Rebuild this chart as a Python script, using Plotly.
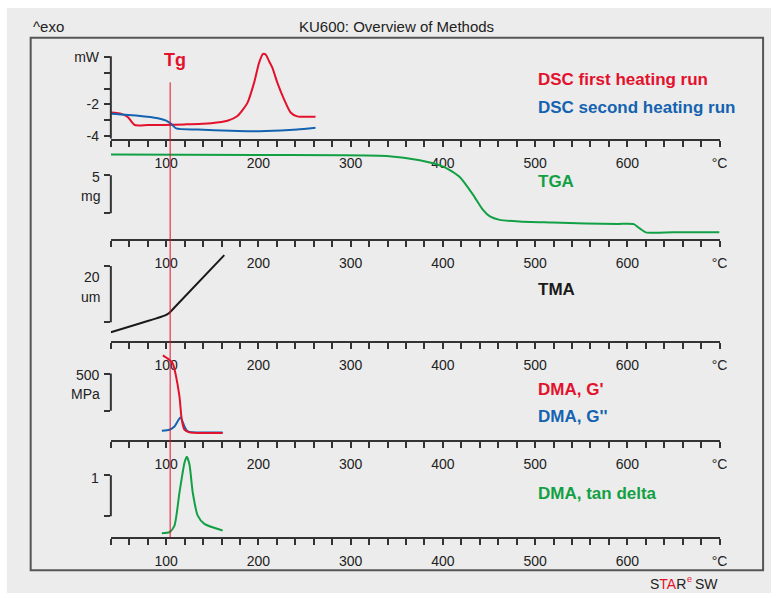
import plotly.graph_objects as go

W, H = 779, 598
FONT = "Liberation Sans, Arial, sans-serif"
INK = "#222222"
AXIS = "#333333"
RED = "#e3112c"
BLUE = "#1463b0"
GREEN = "#12a044"

# ---- temperature axis (shared by all panels) ----
T_RANGE = [40, 700]
T_TICKS = [100, 200, 300, 400, 500, 600, 700]
T_LABELS = ["100", "200", "300", "400", "500", "600", "°C"]

# ---- DSC (mW) ----
dsc1_T = [40, 51.4, 58.6, 65.8, 80.2, 98, 119.8, 148.6, 166.5, 177.3, 188.1,
          195.3, 200.7, 205, 207.9, 211.5, 215.1, 220.5, 227.7, 234.9, 242.1, 261.9]
dsc1_mW = [-2.52, -2.6, -2.82, -3.31, -3.31, -3.31, -3.27, -3.19, -3.04, -2.74, -1.9,
           -0.62, 0.65, 1.22, 1.18, 0.76, 0.34, -0.61, -1.66, -2.51, -2.76, -2.78]
dsc2_T = [40, 69.4, 91, 100, 105.4, 110.8, 134.2, 170.1, 191.7, 224.1, 242.1, 261.9]
dsc2_mW = [-2.6, -2.72, -2.88, -3.03, -3.24, -3.52, -3.6, -3.68, -3.71, -3.66, -3.6, -3.49]
DSC_TICKS = [-4, -2, 1]
DSC_LABELS = ["-4", "-2", "mW"]

# ---- TGA (mg) ----
tga_T = [40, 200, 339, 375, 401, 418, 433, 443.5, 451, 461.5, 483, 519, 555, 590, 607, 613, 620, 650, 700]
tga_mg = [17.74, 17.66, 17.53, 16.96, 16.1, 14.79, 12.39, 10.44, 9.58, 9.13, 8.92, 8.79,
          8.66, 8.6, 8.57, 8.05, 7.49, 7.49, 7.49]

# ---- TMA (um) ----
tma_T = [40, 69.4, 98.2, 103.6, 110, 163]
tma_um = [-3.56, -0.6, 2.36, 3.42, 5.6, 23.88]

# ---- DMA moduli (MPa) ----
g1_T = [96.4, 101.8, 107.2, 110.8, 114.4, 116.9, 119.8, 125.2, 161.2]
g1_MPa = [1145, 1100, 1033, 856, 590, 280, 147, 111, 102]
g2_T = [95.3, 103.6, 109, 115.5, 119.8, 122.5, 125.2, 161.2]
g2_MPa = [134, 147, 191, 311, 191, 134, 118, 111]

# ---- DMA tan delta ----
td_T = [95.3, 103.6, 109, 114.4, 119.8, 122.3, 125.2, 128.8, 134.2, 141.4, 161.2]
td_val = [0.089, 0.113, 0.275, 1.08, 1.80, 1.95, 1.77, 1.08, 0.517, 0.316, 0.155]

TG_T = 104.3


def px(x):
    return x / W


def py(y):
    return 1 - y / H


# panel: (axis line px, panel top px, reference value, px of reference, px per unit)
panels = [
    (140, 50, -2.0, 105.33, 15.83),   # DSC
    (241, 145, 15.0, 176.7, 7.67),    # TGA
    (344, 250, 20.0, 268.3, 2.835),   # TMA
    (444, 350, 900.0, 376.7, 0.0752), # DMA G', G''
    (542, 450, 1.5, 479.3, 41.4),     # tan delta
]

fig = go.Figure()

traces = [
    (dsc1_T, dsc1_mW, RED, 1),
    (dsc2_T, dsc2_mW, BLUE, 1),
    (tga_T, tga_mg, GREEN, 2),
    (tma_T, tma_um, "#1a1a1a", 3),
    (g2_T, g2_MPa, BLUE, 4),
    (g1_T, g1_MPa, RED, 4),
    (td_T, td_val, GREEN, 5),
]
for xs, ys, col, k in traces:
    sfx = "" if k == 1 else str(k)
    fig.add_trace(go.Scatter(
        x=xs, y=ys, mode="lines", xaxis="x" + sfx, yaxis="y" + sfx,
        line=dict(color=col, width=2, shape="spline", smoothing=0.6),
        hoverinfo="skip", showlegend=False))

layout = dict(
    width=W, height=H, margin=dict(l=0, r=0, t=0, b=0),
    paper_bgcolor="white", plot_bgcolor="rgba(0,0,0,0)",
    showlegend=False, font=dict(family=FONT, color=INK, size=14),
)

# bracket extents for the scale markers (value units)
brackets = {2: (10, 15), 3: (0, 20), 4: (400, 900), 5: (0.5, 1.5)}
shapes = []

for i, (yb, yt, vref, pref, ppu) in enumerate(panels, start=1):
    sfx = "" if i == 1 else str(i)
    lo = vref - (yb - pref) / ppu
    hi = vref + (pref - yt) / ppu
    layout["xaxis" + sfx] = dict(
        domain=[px(112), px(727)], range=T_RANGE, anchor="y" + sfx,
        showline=True, linecolor=AXIS, linewidth=2, mirror=False,
        showgrid=False, zeroline=False,
        tickmode="array", tickvals=T_TICKS, ticktext=T_LABELS,
        ticks="outside", ticklen=6, tickwidth=1.5, tickcolor=AXIS,
        ticklabelstandoff=4,
        minor=dict(dtick=20, tick0=0, ticks="outside", ticklen=6,
                   tickwidth=1.5, tickcolor=AXIS, showgrid=False),
        tickfont=dict(family=FONT, size=14, color=INK), fixedrange=True,
    )
    ya = dict(
        domain=[py(yb), py(yt)], range=[lo, hi], anchor="x" + sfx,
        showline=False, showgrid=False, zeroline=False, fixedrange=True,
        ticks="outside", ticklen=6, tickwidth=2, tickcolor=AXIS,
        tickfont=dict(family=FONT, size=14, color=INK),
    )
    if i == 1:
        ya.update(tickmode="array", tickvals=DSC_TICKS, ticktext=DSC_LABELS,
                  ticklabelstandoff=2,
                  minor=dict(tickmode="array", tickvals=[-4, -3, -2, -1, 0, 1],
                             ticks="outside", ticklen=6, tickwidth=2,
                             tickcolor=AXIS, showgrid=False))
        shapes.append(dict(type="line", xref="x domain", yref="y",
                           x0=0, x1=0, y0=lo, y1=1.07,
                           line=dict(color=AXIS, width=2)))
    else:
        b0, b1 = brackets[i]
        ya.update(tickmode="array", tickvals=[b0, b1], showticklabels=False)
        shapes.append(dict(type="line", xref="x%d domain" % i, yref="y%d" % i,
                           x0=0, x1=0, y0=b0, y1=b1,
                           line=dict(color=AXIS, width=2)))
    layout["yaxis" + sfx] = ya

# page background and frame
shapes.insert(0, dict(type="rect", xref="paper", yref="paper", layer="below",
                      x0=px(7), x1=1, y0=0, y1=py(8),
                      fillcolor="#ececec", line=dict(width=0)))
shapes.append(dict(type="rect", xref="paper", yref="paper",
                   x0=px(31), x1=px(771), y0=py(575), y1=py(38),
                   line=dict(color="#555555", width=2)))
# glass transition marker
shapes.append(dict(type="line", xref="x", yref="paper", x0=TG_T, x1=TG_T,
                   y0=py(542), y1=py(83), line=dict(color=RED, width=1)))
layout["shapes"] = shapes


def note(text, x, y, color=INK, size=14, bold=False, anchor="left", pad=1):
    return dict(text="<b>%s</b>" % text if bold else text,
                xref="paper", yref="paper", x=px(x), y=py(y),
                xanchor=anchor, yanchor="middle", showarrow=False,
                borderpad=pad,
                font=dict(family=FONT, size=size, color=color))


LX = 542
layout["annotations"] = [
    note("^exo", 31, 27, size=15),
    note("KU600: Overview of Methods", 401, 27, size=15, anchor="center"),
    note("Tg", 177, 61, RED, 18, True, "center"),
    note("DSC first heating run", LX, 80, RED, 17, True),
    note("DSC second heating run", LX, 108, BLUE, 17, True),
    note("TGA", LX, 183, GREEN, 17, True),
    note("TMA", LX, 292, "#1a1a1a", 17, True),
    note("DMA, G'", LX, 393, RED, 17, True),
    note("DMA, G''", LX, 420, BLUE, 17, True),
    note("DMA, tan delta", LX, 498, GREEN, 17, True),
    note("5", 103, 178, anchor="right"),
    note("mg", 103, 198, anchor="right"),
    note("20", 103, 279, anchor="right"),
    note("um", 103, 299, anchor="right"),
    note("500", 103, 378, anchor="right"),
    note("MPa", 103, 397, anchor="right"),
    note("1", 102, 482, anchor="right"),
    # software badge: STAR with a raised red "e", then SW
    note("S<span style='color:%s'>TA</span>R" % RED, 694, 589, anchor="right", pad=0),
    note("e", 693, 584, RED, 9, pad=0),
    note("SW", 701, 589, pad=0),
]

fig.update_layout(**layout)
fig.write_html("out.html", config={"displayModeBar": False})
